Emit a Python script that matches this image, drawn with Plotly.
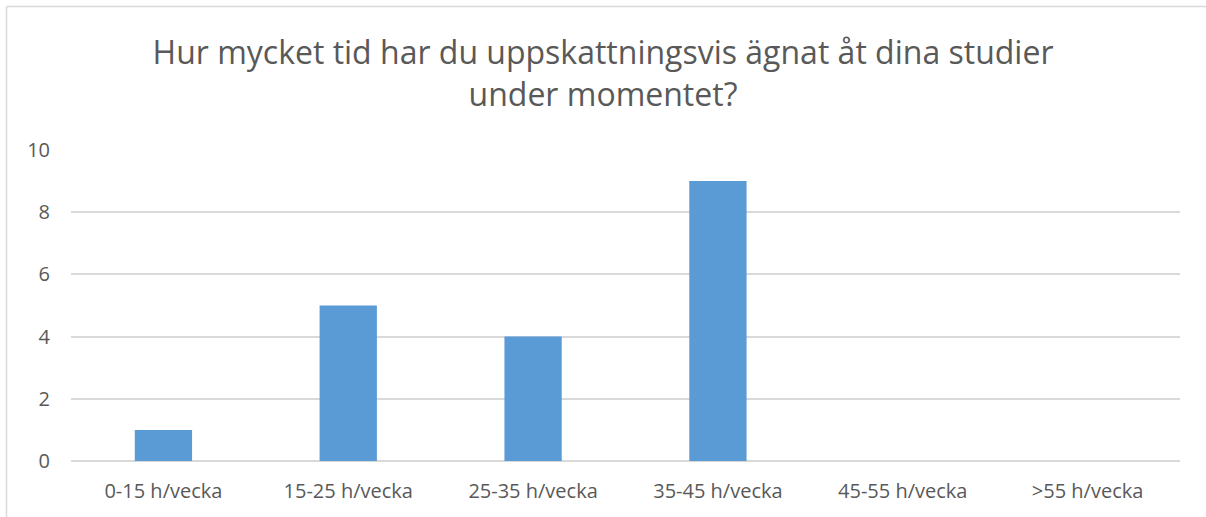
import plotly.graph_objects as go

categories = ["0-15 h/vecka", "15-25 h/vecka", "25-35 h/vecka", "35-45 h/vecka", "45-55 h/vecka", ">55 h/vecka"]
values = [1, 5, 4, 9, 0, 0]
title_text = "Hur mycket tid har du uppskattningsvis ägnat åt dina studier<br>under momentet?"

W, H = 1206, 517
L, R, T, B = 71, 26, 150, 56
pw, ph = W - L - R, H - T - B

def px_x(x):
    return (x - L) / pw

def px_y(y):
    return (H - B - y) / ph

fig = go.Figure()
fig.add_trace(go.Bar(x=categories, y=values, marker=dict(color="#5B9BD5", line=dict(width=0)),
                     hoverinfo="x+y"))

font = "Open Sans, Noto Sans, sans-serif"
fig.update_layout(
    width=W, height=H,
    margin=dict(l=L, r=R, t=T, b=B),
    paper_bgcolor="white", plot_bgcolor="white",
    bargap=0.69,
    showlegend=False,
    title=dict(text=title_text, x=0.5, xanchor="center", y=1 - 64 / H, yanchor="top",
               font=dict(family=font, size=32, color="#595959")),
    xaxis=dict(showgrid=False, showline=False, ticks="", ticklabelstandoff=16,
               tickfont=dict(family=font, size=20, color="#595959")),
    yaxis=dict(range=[0, 10], dtick=2, showgrid=True, gridcolor="#D9D9D9", gridwidth=1.5,
               zeroline=True, zerolinecolor="#D9D9D9", zerolinewidth=1.5, ticks="", ticklen=0,
               ticklabelstandoff=20,
               tickfont=dict(family=font, size=20, color="#595959")),
    shapes=[
        dict(type="line", xref="paper", yref="paper", x0=px_x(6.5), x1=px_x(6.5), y0=px_y(6.5), y1=px_y(H + 2),
             line=dict(color="#D9D9D9", width=1.5)),
        dict(type="line", xref="paper", yref="paper", x0=px_x(6.5), x1=px_x(W + 2), y0=px_y(6.5), y1=px_y(6.5),
             line=dict(color="#D9D9D9", width=1.5)),
    ],
)

fig.write_html("out.html", config={"displayModeBar": False},
               post_script="document.body.style.margin='0';")
